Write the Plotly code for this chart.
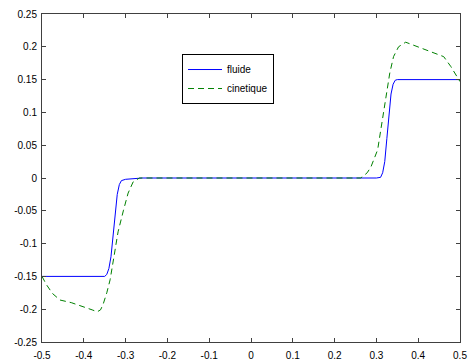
import plotly.graph_objects as go

fluide_x = [-0.5, -0.35, -0.345, -0.34, -0.335, -0.33, -0.325, -0.32, -0.315, -0.31, -0.3, -0.28, -0.26,
            0.3, 0.31, 0.315, 0.32, 0.325, 0.33, 0.335, 0.34, 0.345, 0.35, 0.5]
fluide_y = [-0.15, -0.15, -0.147, -0.138, -0.12, -0.09, -0.055, -0.025, -0.01, -0.004, -0.002, -0.001, 0.0,
            0.0, 0.001, 0.008, 0.025, 0.06, 0.1, 0.128, 0.143, 0.149, 0.15, 0.15]

cin_x = [-0.5, -0.49, -0.475, -0.457, -0.43, -0.4, -0.38, -0.368, -0.36, -0.354, -0.345, -0.337, -0.325,
         -0.318, -0.305, -0.294, -0.282, -0.267, 0.262, 0.267, 0.278, 0.287, 0.303, 0.31, 0.322, 0.332,
         0.341, 0.353, 0.37, 0.399, 0.437, 0.461, 0.478, 0.5]
cin_y = [-0.15, -0.162, -0.176, -0.186, -0.19, -0.196, -0.201, -0.204, -0.201, -0.193, -0.175, -0.155, -0.11,
         -0.082, -0.049, -0.023, -0.006, 0.0, 0.0, 0.002, 0.008, 0.017, 0.043, 0.073, 0.119, 0.16,
         0.185, 0.2, 0.207, 0.2, 0.192, 0.185, 0.17, 0.147]

x_ticks = [-0.5, -0.4, -0.3, -0.2, -0.1, 0, 0.1, 0.2, 0.3, 0.4, 0.5]
x_labels = ["-0.5", "-0.4", "-0.3", "-0.2", "-0.1", "0", "0.1", "0.2", "0.3", "0.4", "0.5"]
y_ticks = [-0.25, -0.2, -0.15, -0.1, -0.05, 0, 0.05, 0.1, 0.15, 0.2, 0.25]
y_labels = ["-0.25", "-0.2", "-0.15", "-0.1", "-0.05", "0", "0.05", "0.1", "0.15", "0.2", "0.25"]

fig = go.Figure()
fig.add_trace(go.Scatter(x=fluide_x, y=fluide_y, mode="lines", name="fluide",
                         line=dict(color="rgb(0,0,255)", width=1)))
fig.add_trace(go.Scatter(x=cin_x, y=cin_y, mode="lines", name="cinetique",
                         line=dict(color="rgb(0,128,0)", width=1, dash="6px,4px")))

axis_common = dict(showgrid=False, zeroline=False, showline=True, linecolor="#404040", linewidth=1,
                   mirror="ticks", ticks="inside", ticklen=4, tickcolor="#404040",
                   tickfont=dict(family="Liberation Sans, Arial", size=10, color="black"))
fig.update_xaxes(range=[-0.5, 0.5], tickvals=x_ticks, ticktext=x_labels, ticklabelstandoff=4, **axis_common)
fig.update_yaxes(range=[-0.25, 0.25], tickvals=y_ticks, ticktext=y_labels, ticklabelstandoff=2, **axis_common)

fig.update_layout(
    width=471, height=360,
    margin=dict(l=42, r=11, t=14, b=18, autoexpand=False),
    plot_bgcolor="white", paper_bgcolor="white",
    legend=dict(x=0.335, y=0.878, xanchor="left", yanchor="top",
                bordercolor="black", borderwidth=1, bgcolor="white",
                font=dict(family="Liberation Sans, Arial", size=10, color="black"),
                tracegroupgap=0, itemwidth=34),
)

fig.write_html("out.html", config={"displayModeBar": False},
               post_script="document.body.style.margin='0';")
